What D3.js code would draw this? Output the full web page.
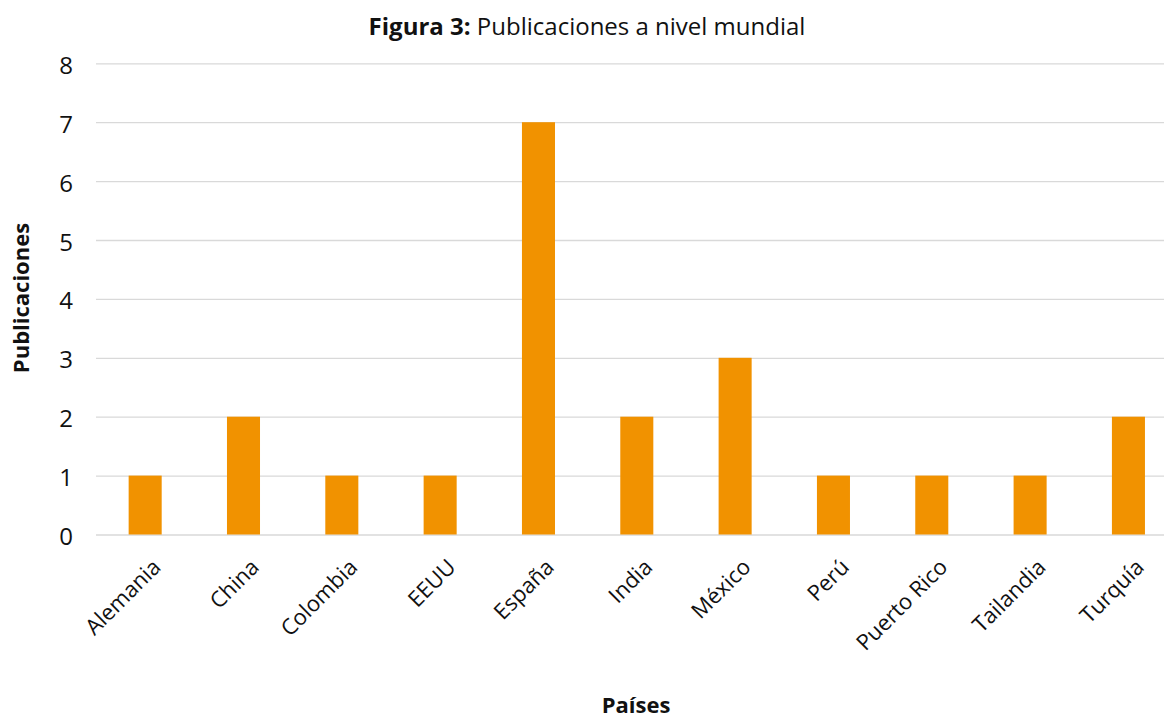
<!DOCTYPE html>
<html>
<head>
<meta charset="utf-8">
<script src="https://cdn.jsdelivr.net/npm/d3@7"></script>
<style>
  html, body { margin: 0; padding: 0; background: #fff; overflow: hidden; }
  svg { display: block; font-family: "Open Sans", "Noto Sans", sans-serif; }
</style>
</head>
<body>
<svg id="chart" width="1164" height="719"></svg>
<script>
const categories = ["Alemania", "China", "Colombia", "EEUU", "España", "India", "México", "Perú", "Puerto Rico", "Tailandia", "Turquía"];
const values = [1, 2, 1, 1, 7, 2, 3, 1, 1, 1, 2];
const yTicks = [0, 1, 2, 3, 4, 5, 6, 7, 8];
const titleBold = "Figura 3:";
const titleRest = " Publicaciones a nivel mundial";
const xTitle = "Países";
const yTitle = "Publicaciones";

(function () {
const FONT = '"Open Sans", "Noto Sans", sans-serif';
const svg = d3.select("#chart");
const pLeft = 96, pRight = 1177.6, pTop = 63.3, pBottom = 534.5;

const x = d3.scaleBand().domain(categories).range([pLeft, pRight]).paddingInner(0.664).paddingOuter(0.332);
const y = d3.scaleLinear().domain([0, 8]).range([pBottom, pTop]);

// gridlines
const yAxis = d3.axisLeft(y).tickValues(yTicks).tickSize(-(pRight - pLeft)).tickPadding(23).tickFormat(d3.format("d"));
const gy = svg.append("g").attr("transform", `translate(${pLeft},0)`).call(yAxis);
gy.attr("font-family", FONT);
gy.select(".domain").remove();
gy.selectAll(".tick line").attr("stroke", "#d9d9d9").attr("stroke-width", 1.3);
gy.selectAll(".tick text").attr("font-size", 24).attr("fill", "#111").attr("dy", "0.42em");

// bars
svg.append("g").selectAll("rect").data(categories).join("rect")
  .attr("x", d => x(d))
  .attr("width", x.bandwidth())
  .attr("y", (d, i) => y(values[i]))
  .attr("height", (d, i) => y(0) - y(values[i]))
  .attr("fill", "#f19200");

// x axis labels
const xAxis = d3.axisBottom(x).tickSize(0).tickPadding(0);
const gx = svg.append("g").attr("transform", `translate(0,${pBottom})`).call(xAxis);
gx.attr("font-family", FONT);
gx.select(".domain").remove();
gx.selectAll(".tick text")
  .attr("font-size", 22)
  .attr("fill", "#111")
  .attr("text-anchor", "end")
  .attr("dy", 0)
  .attr("transform", "translate(17,34) rotate(-45)");

// title
const t = svg.append("text").attr("x", 587).attr("y", 35).attr("text-anchor", "middle")
  .attr("font-size", 24).attr("fill", "#111");
t.append("tspan").attr("font-weight", "bold").text(titleBold);
t.append("tspan").text(titleRest);

// axis titles
svg.append("text").attr("x", 636).attr("y", 713).attr("text-anchor", "middle")
  .attr("font-size", 22).attr("font-weight", "bold").attr("fill", "#111").text(xTitle);
svg.append("text").attr("transform", "translate(29,298) rotate(-90)").attr("text-anchor", "middle")
  .attr("font-size", 22).attr("font-weight", "bold").attr("fill", "#111").text(yTitle);
})();
</script>
</body>
</html>
